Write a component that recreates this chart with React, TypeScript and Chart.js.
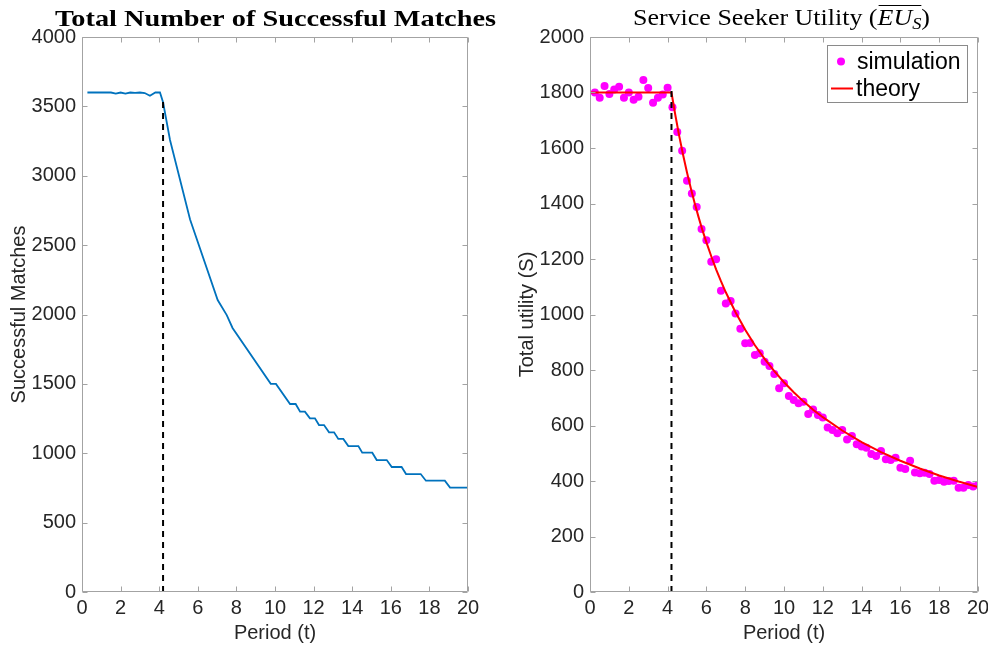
import React, { useEffect, useRef } from "react";
import { Chart, registerables } from "chart.js";

Chart.register(...registerables);

// ---------- data ----------
const periodTicks = [0, 2, 4, 6, 8, 10, 12, 14, 16, 18, 20];

const matchT = [0.28, 1.0, 1.5, 1.75, 2.0, 2.25, 2.5, 2.75, 3.0, 3.25, 3.52, 3.8, 4.04, 4.2, 4.56, 5.6, 7.03, 7.5, 7.8, 9.78, 10.05, 10.78, 11.07, 11.3, 11.55, 11.81, 12.07, 12.28, 12.54, 12.8, 13.06, 13.28, 13.54, 13.8, 14.32, 14.52, 15.04, 15.27, 15.79, 16.05, 16.56, 16.79, 17.55, 17.82, 18.8, 19.07, 20.0];
const matchV = [3600, 3600, 3600, 3592, 3600, 3592, 3600, 3597, 3600, 3596, 3577, 3600, 3600, 3530, 3258, 2685, 2104, 1996, 1903, 1500, 1500, 1355, 1355, 1300, 1300, 1252, 1252, 1203, 1203, 1151, 1151, 1103, 1103, 1052, 1052, 1004, 1004, 951, 951, 901, 901, 850, 850, 802, 802, 752, 752];

const simT = [0.25, 0.5, 0.75, 1.0, 1.25, 1.5, 1.75, 2.0, 2.25, 2.5, 2.75, 3.0, 3.25, 3.5, 3.75, 4.0, 4.25, 4.5, 4.75, 5.0, 5.25, 5.5, 5.75, 6.0, 6.25, 6.5, 6.75, 7.0, 7.25, 7.5, 7.75, 8.0, 8.25, 8.5, 8.75, 9.0, 9.25, 9.5, 9.75, 10.0, 10.25, 10.5, 10.75, 11.0, 11.25, 11.5, 11.75, 12.0, 12.25, 12.5, 12.75, 13.0, 13.25, 13.5, 13.75, 14.0, 14.25, 14.5, 14.75, 15.0, 15.25, 15.5, 15.75, 16.0, 16.25, 16.5, 16.75, 17.0, 17.25, 17.5, 17.75, 18.0, 18.25, 18.5, 18.75, 19.0, 19.25, 19.5, 19.75, 20.0];
const simV = [1800, 1781, 1823, 1795, 1811, 1821, 1781, 1800, 1774, 1785, 1845, 1816, 1763, 1781, 1793, 1817, 1747, 1658, 1590, 1482, 1436, 1387, 1308, 1268, 1190, 1199, 1086, 1040, 1049, 1004, 949, 896, 897, 854, 860, 830, 814, 786, 734, 752, 706, 692, 680, 686, 641, 658, 638, 629, 593, 584, 572, 584, 550, 562, 532, 524, 520, 497, 490, 508, 478, 476, 484, 448, 443, 473, 431, 428, 430, 425, 401, 404, 397, 400, 401, 376, 376, 386, 380, 386];

const theoryT = [0, 4.2, 4.4, 4.6, 4.8, 5.0, 5.2, 5.4, 5.6, 5.8, 6.0, 6.25, 6.5, 6.75, 7.0, 7.5, 8.0, 8.5, 9.0, 9.5, 10.0, 10.5, 11.0, 11.5, 12.0, 13.0, 14.0, 15.0, 16.0, 17.0, 18.0, 19.0, 20.0];
const theoryV = [1800, 1800, 1718, 1643, 1575, 1512, 1454, 1400, 1350, 1303, 1260, 1210, 1163, 1120, 1080, 1008, 945, 889, 840, 796, 756, 720, 687, 657, 630, 582, 540, 504, 473, 445, 420, 398, 378];

const switchPeriod = 4.2;
const leftDashTop = 3560;
const rightDashTop = 1820;

const leftYMax = 4000;
const leftYStep = 500;
const rightYMax = 2000;
const rightYStep = 200;

const leftTitle = "Total Number of Successful Matches";
const rightTitleParts = ["Service Seeker Utility (", "EU", "S", ")"];
const legendLabels = ["simulation", "theory"];

// ---------- styles ----------
const AXIS_COLOR = "#a3a3a3";
const TEXT_COLOR = "#262626";
const SANS = '"Liberation Sans", Arial, Helvetica, sans-serif';
const SERIF = '"Liberation Serif", "Times New Roman", serif';
const BLUE = "#0072BD";
const RED = "#FF0000";
const MAGENTA = "#FF00FF";

const toXY = (xs: number[], ys: number[]) => xs.map((x, i) => ({ x, y: ys[i] }));

const framePlugin = {
  id: "matlabFrame",
  afterDatasetsDraw(chart: any) {
    const { ctx, chartArea: a, scales } = chart;
    const L = Math.round(a.left) + 0.5;
    const R = Math.round(a.right) - 0.5;
    const T = Math.round(a.top) + 0.5;
    const B = Math.round(a.bottom) - 0.5;
    const tl = 5;
    ctx.save();
    ctx.strokeStyle = AXIS_COLOR;
    ctx.lineWidth = 1;
    ctx.beginPath();
    ctx.rect(L, T, R - L, B - T);
    scales.x.ticks.forEach((t: any) => {
      const px = Math.round(scales.x.getPixelForValue(t.value)) + 0.5;
      ctx.moveTo(px, B);
      ctx.lineTo(px, B - tl);
      ctx.moveTo(px, T);
      ctx.lineTo(px, T + tl);
    });
    scales.y.ticks.forEach((t: any) => {
      const py = Math.round(scales.y.getPixelForValue(t.value)) + 0.5;
      ctx.moveTo(L, py);
      ctx.lineTo(L + tl, py);
      ctx.moveTo(R, py);
      ctx.lineTo(R - tl, py);
    });
    ctx.stroke();
    ctx.restore();
  },
};

function makeLeftTitlePlugin(centerX: number, baseline: number, targetW: number) {
  return {
    id: "leftTitle",
    afterDraw(chart: any) {
      const ctx = chart.ctx;
      ctx.save();
      ctx.font = `bold 24px ${SERIF}`;
      const w = ctx.measureText(leftTitle).width;
      const s = targetW / w;
      ctx.translate(centerX - targetW / 2, baseline);
      ctx.scale(s, 1);
      ctx.fillStyle = "#000";
      ctx.textBaseline = "alphabetic";
      ctx.textAlign = "left";
      ctx.fillText(leftTitle, 0, 0);
      ctx.restore();
    },
  };
}

function makeRightTitlePlugin(centerX: number, baseline: number, targetW: number) {
  return {
    id: "rightTitle",
    afterDraw(chart: any) {
      const ctx = chart.ctx;
      const fonts = [`24px ${SERIF}`, `italic 24px ${SERIF}`, `italic 17px ${SERIF}`, `24px ${SERIF}`];
      const dys = [0, 0, 4, 0];
      ctx.save();
      const widths = rightTitleParts.map((p, i) => {
        ctx.font = fonts[i];
        return ctx.measureText(p).width;
      });
      const total = widths.reduce((a, b) => a + b, 0);
      const s = targetW / total;
      ctx.translate(centerX - targetW / 2, baseline);
      ctx.scale(s, 1);
      ctx.fillStyle = "#000";
      ctx.textBaseline = "alphabetic";
      ctx.textAlign = "left";
      let x = 0;
      let overStart = 0;
      let overEnd = 0;
      rightTitleParts.forEach((p, i) => {
        ctx.font = fonts[i];
        if (i === 1) overStart = x;
        ctx.fillText(p, x, dys[i]);
        x += widths[i];
        if (i === 2) overEnd = x;
      });
      ctx.strokeStyle = "#000";
      ctx.lineWidth = 1.2;
      ctx.beginPath();
      ctx.moveTo(overStart + 1, -19.5);
      ctx.lineTo(overEnd, -19.5);
      ctx.stroke();
      ctx.restore();
    },
  };
}

function makeLegendPlugin(box: { x: number; y: number; w: number; h: number }) {
  return {
    id: "insideLegend",
    afterDraw(chart: any) {
      const ctx = chart.ctx;
      ctx.save();
      ctx.fillStyle = "#fff";
      ctx.fillRect(box.x, box.y, box.w, box.h);
      ctx.strokeStyle = "#8a8a8a";
      ctx.lineWidth = 1;
      ctx.strokeRect(box.x + 0.5, box.y + 0.5, box.w - 1, box.h - 1);
      const row1 = box.y + 16.5;
      const row2 = box.y + 43.5;
      ctx.fillStyle = MAGENTA;
      ctx.beginPath();
      ctx.arc(box.x + 14, row1, 4, 0, Math.PI * 2);
      ctx.fill();
      ctx.strokeStyle = RED;
      ctx.lineWidth = 2;
      ctx.beginPath();
      ctx.moveTo(box.x + 4, row2);
      ctx.lineTo(box.x + 26, row2);
      ctx.stroke();
      ctx.fillStyle = "#000";
      ctx.font = `23px ${SANS}`;
      ctx.textBaseline = "middle";
      ctx.textAlign = "left";
      ctx.fillText(legendLabels[0], box.x + 30, row1 + 1);
      ctx.fillText(legendLabels[1], box.x + 29, row2 + 1);
      ctx.restore();
    },
  };
}

function baseScales(yMax: number, yStep: number, yTitle: string, yAxisWidth: number, yTitlePad: number) {
  return {
    x: {
      type: "linear",
      min: 0,
      max: 20,
      afterBuildTicks: (scale: any) => {
        scale.ticks = periodTicks.map((v) => ({ value: v }));
      },
      afterFit: (scale: any) => {
        scale.height = 53;
        scale.paddingLeft = 0;
        scale.paddingRight = 0;
      },
      grid: { display: false, drawTicks: false },
      border: { display: false },
      ticks: {
        color: TEXT_COLOR,
        font: { family: SANS, size: 20 },
        padding: 4,
        maxRotation: 0,
        autoSkip: false,
        callback: (v: any) => String(v),
      },
      title: {
        display: true,
        text: "Period (t)",
        color: TEXT_COLOR,
        font: { family: SANS, size: 20 },
        padding: { top: 0, bottom: 0 },
      },
    },
    y: {
      type: "linear",
      min: 0,
      max: yMax,
      afterFit: (scale: any) => {
        scale.width = yAxisWidth;
        scale.paddingTop = 0;
        scale.paddingBottom = 0;
      },
      grid: { display: false, drawTicks: false },
      border: { display: false },
      ticks: {
        stepSize: yStep,
        color: TEXT_COLOR,
        font: { family: SANS, size: 20 },
        padding: 6,
        autoSkip: false,
        callback: (v: any) => String(v),
      },
      title: {
        display: true,
        text: yTitle,
        color: TEXT_COLOR,
        font: { family: SANS, size: 20 },
        padding: { top: yTitlePad, bottom: 0 },
      },
    },
  };
}

export default function App() {
  const leftRef = useRef<HTMLCanvasElement | null>(null);
  const rightRef = useRef<HTMLCanvasElement | null>(null);

  useEffect(() => {
    const left = new Chart(leftRef.current as HTMLCanvasElement, {
      type: "line",
      data: {
        datasets: [
          {
            label: "switch",
            data: toXY([switchPeriod, switchPeriod], [0, leftDashTop]),
            borderColor: "#000",
            borderWidth: 2,
            borderDash: [6, 5],
            pointRadius: 0,
            fill: false,
          },
          {
            label: "Successful Matches",
            data: toXY(matchT, matchV),
            borderColor: BLUE,
            borderWidth: 1.8,
            pointRadius: 0,
            tension: 0,
            fill: false,
          },
        ],
      },
      options: {
        responsive: false,
        animation: false,
        layout: { padding: { left: 0, right: 42, top: 37, bottom: 0 } },
        plugins: { legend: { display: false }, tooltip: { enabled: false }, title: { display: false } },
        scales: baseScales(leftYMax, leftYStep, "Successful Matches", 82, 7) as any,
      },
      plugins: [framePlugin, makeLeftTitlePlugin(275.5, 26, 441)],
    });

    const right = new Chart(rightRef.current as HTMLCanvasElement, {
      type: "line",
      data: {
        datasets: [
          {
            label: "switch",
            data: toXY([switchPeriod, switchPeriod], [0, rightDashTop]),
            borderColor: "#000",
            borderWidth: 2,
            borderDash: [6, 5],
            pointRadius: 0,
            fill: false,
          },
          {
            label: "theory",
            data: toXY(theoryT, theoryV),
            borderColor: RED,
            borderWidth: 2,
            pointRadius: 0,
            tension: 0,
            fill: false,
          },
          {
            label: "simulation",
            data: toXY(simT, simV),
            showLine: false,
            borderWidth: 0,
            pointRadius: 4,
            pointBackgroundColor: MAGENTA,
            pointBorderWidth: 0,
            backgroundColor: MAGENTA,
            borderColor: MAGENTA,
          },
        ],
      },
      options: {
        responsive: false,
        animation: false,
        layout: { padding: { left: 0, right: 10, top: 37, bottom: 0 } },
        plugins: { legend: { display: false }, tooltip: { enabled: false }, title: { display: false } },
        scales: baseScales(rightYMax, rightYStep, "Total utility (S)", 96, 21) as any,
      },
      plugins: [
        framePlugin,
        makeRightTitlePlugin(287.5, 25, 297),
        makeLegendPlugin({ x: 333, y: 45, w: 141, h: 58 }),
      ],
    });

    return () => {
      left.destroy();
      right.destroy();
    };
  }, []);

  return (
    <div style={{ position: "absolute", left: 0, top: 0, width: 988, height: 645, background: "#fff", overflow: "hidden" }}>
      <canvas ref={leftRef} width={510} height={645} style={{ position: "absolute", left: 0, top: 0 }} />
      <canvas ref={rightRef} width={494} height={645} style={{ position: "absolute", left: 494, top: 0 }} />
    </div>
  );
}
